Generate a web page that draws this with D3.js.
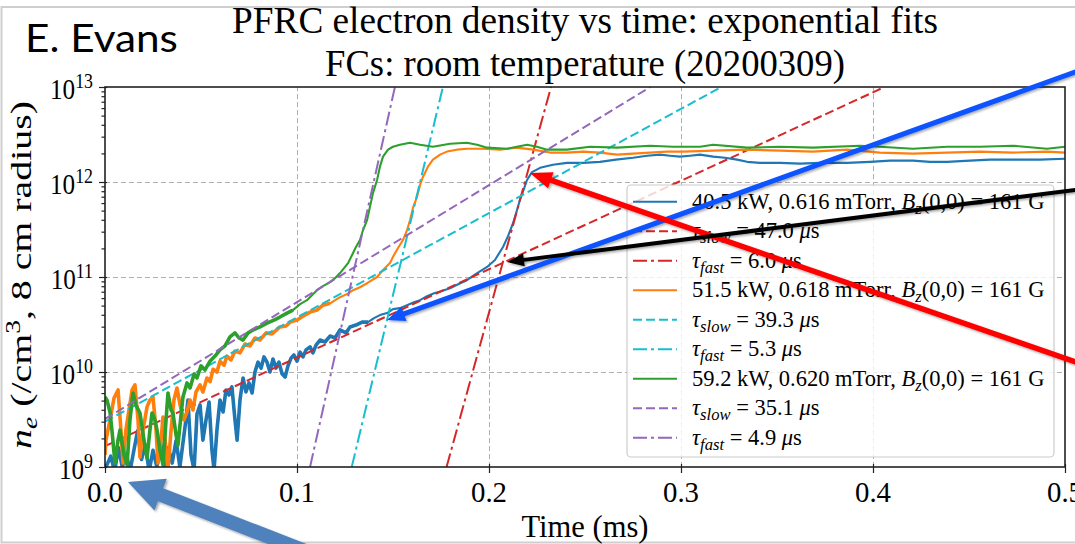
<!DOCTYPE html>
<html>
<head>
<meta charset="utf-8">
<script src="https://cdn.jsdelivr.net/npm/d3@7"></script>
<style>
  body{margin:0;background:#fff;}
  svg{display:block;}
</style>
</head>
<body>
<div id="chart"></div>
<script>
// PFRC electron density vs time, exponential fits

// densities below are in units of 1e9 /cm^3, time in ms
const UNIT = 1e9;
const TIME_TICKS = [0, 0.1, 0.2, 0.3, 0.4, 0.5];
const DENS_EXP   = [9, 10, 11, 12, 13];

const POWERS    = ["40.5", "51.5", "59.2"];
const PRESSURES = ["0.616", "0.618", "0.620"];
const BZ        = "161";
const TAU_SLOW  = ["47.0", "39.3", "35.1"];
const TAU_FAST  = ["6.0", "5.3", "4.9"];

const shot40 = [[0,0.95],[0.003,1.3],[0.005,0.9],[0.007,1.6],[0.009,1.0],[0.011,1.4],[0.013,0.9],[0.016,1.9],[0.017,2.4],[0.019,1.2],[0.021,1.7],[0.023,0.9],[0.025,1.5],[0.027,1.0],[0.029,1.8],[0.031,0.9],[0.033,1.6],[0.035,1.1],[0.037,1.9],[0.039,1.0],[0.0422,3.2],
  [0.0432,5.07],[0.0448,1.34],[0.0464,0.93],[0.0479,3.61],[0.0495,4.5],[0.051,1.92],[0.0526,3.13],[0.0542,4.83],[0.0557,1.51],[0.0568,0.93],[0.0583,2.45],[0.0599,5.07],[0.0615,3.79],[0.063,6.47],[0.0646,5.73],[0.0661,6.96],[0.0677,3.13],[0.0688,1.92],[0.0703,5.07],[0.0719,8.65],[0.0734,6.16],[0.075,7.67],[0.0766,6.02],[0.0781,10.0],[0.0797,12.7],[0.0813,11.0],[0.0828,14.4],[0.0844,12.7],[0.0859,10.0],[0.0875,13.7],[0.0891,11.0],[0.0906,12.7],[0.0922,9.6],[0.0938,8.86],[0.0953,11.6],[0.0969,14.0],[0.0984,15.1],[0.1,13.0],[0.1016,16.2],[0.1031,14.4],[0.1047,17.1],[0.1068,18.4],[0.1083,15.9],[0.1099,19.2],[0.112,21.7],[0.1146,20.7],[0.1172,23.9],[0.1198,22.8],[0.1224,27.7],[0.1255,25.8],[0.1276,29.8],[0.1307,31.2],[0.1339,33.5],[0.137,33.5],[0.1401,36.9],[0.1432,39.7],[0.1469,41.7],[0.15,45.9],[0.1536,47.0],[0.1573,50.5],[0.1609,54.3],[0.1641,57.0],[0.1677,62.8],[0.1714,67.5],[0.175,70.8],[0.1797,76.2],[0.1839,84.0],[0.1885,92.6],[0.1932,107.7],[0.199,127.6],[0.2031,151],[0.2073,207],[0.2099,269],[0.2125,368],[0.2146,508],[0.2161,647],[0.2182,845],[0.2198,1050],[0.2224,1270],[0.2266,1410],[0.2333,1520],[0.2406,1590],[0.249,1590],[0.2578,1630],[0.2661,1720],[0.275,1800],[0.2823,1890],[0.2891,1940],[0.2943,1890],[0.2995,1850],[0.3047,1890],[0.3099,1940],[0.3167,1850],[0.3229,1800],[0.3292,1720],[0.3344,1630],[0.3411,1590],[0.3516,1590],[0.362,1560],[0.3724,1590],[0.3865,1590],[0.3984,1630],[0.4089,1680],[0.4208,1680],[0.4297,1630],[0.4385,1630],[0.4505,1680],[0.4609,1720],[0.4729,1720],[0.487,1720],[0.5,1760]];

const shot51 = [[0,1.34],[0.0005,1.92],[0.0026,3.13],[0.0047,5.32],[0.0068,6.47],[0.0083,2.45],[0.0094,1.10],[0.0109,2.45],[0.0125,3.98],[0.0141,6.47],[0.0156,7.31],[0.0172,3.13],[0.0182,1.27],[0.0198,2.45],[0.0219,4.29],[0.0234,5.07],[0.025,5.45],[0.0266,2.45],[0.0276,1.10],[0.0292,1.92],[0.0302,3.36],[0.0318,1.51],[0.0328,0.93],[0.0344,2.45],[0.0359,5.07],[0.0375,6.79],[0.0391,4.50],[0.0411,3.13],[0.0427,3.79],[0.0443,5.07],[0.0458,3.98],[0.0474,6.16],[0.0495,7.31],[0.051,6.16],[0.0531,8.65],[0.0547,7.9],[0.0563,10.7],[0.0583,10.0],[0.0599,13.0],[0.062,11.8],[0.0635,14.7],[0.0656,13.4],[0.0677,16.6],[0.0703,15.9],[0.0729,19.7],[0.0755,18.8],[0.0781,22.8],[0.0807,21.7],[0.0839,25.8],[0.087,25.2],[0.0911,29.8],[0.0943,30.5],[0.0964,33.5],[0.1,35.2],[0.1031,38.7],[0.1068,42.7],[0.1104,44.8],[0.1135,50.5],[0.1172,52.9],[0.1224,61.3],[0.126,66.0],[0.1292,72.6],[0.1328,78.0],[0.1365,86.0],[0.1417,100],[0.1448,118.6],[0.1484,140],[0.15,163],[0.1526,202],[0.1552,245],[0.1573,312],[0.1589,398],[0.1604,534],[0.1625,697],[0.1641,932],[0.1656,1130],[0.1682,1450],[0.1708,1720],[0.1745,1940],[0.1781,2090],[0.1833,2190],[0.1885,2240],[0.1969,2240],[0.2057,2190],[0.2146,2300],[0.2229,2190],[0.2318,2040],[0.2406,2040],[0.249,2090],[0.2578,2040],[0.2667,1940],[0.275,1990],[0.2839,2040],[0.2927,2090],[0.301,2090],[0.3167,2140],[0.3344,2190],[0.3516,2140],[0.3688,2090],[0.3865,2190],[0.4036,2040],[0.4208,1990],[0.4385,2040],[0.4557,2090],[0.4729,2040],[0.4906,2090],[0.5,2040]];

const shot59 = [[0,5.45],[0.001,5.07],[0.0026,3.79],[0.0036,2.45],[0.0052,1.10],[0.0068,1.92],[0.0078,2.45],[0.0099,1.34],[0.0115,1.05],[0.013,3.13],[0.0146,6.02],[0.0161,4.50],[0.0182,3.70],[0.0203,1.92],[0.0219,1.24],[0.0234,2.45],[0.0245,3.70],[0.026,3.13],[0.0271,2.45],[0.0286,1.51],[0.0302,1.05],[0.0318,3.13],[0.0328,6.02],[0.0344,3.98],[0.0354,3.70],[0.037,2.17],[0.038,1.70],[0.0396,3.53],[0.0406,5.45],[0.0427,7.67],[0.0443,6.79],[0.0464,9.5],[0.0479,8.65],[0.05,11.6],[0.0521,10.5],[0.0547,13.0],[0.0573,14.7],[0.0599,17.1],[0.0625,18.8],[0.0651,23.4],[0.0677,25.8],[0.0698,22.8],[0.0719,21.7],[0.0745,25.8],[0.0771,27.7],[0.0807,29.8],[0.0844,32.7],[0.088,35.2],[0.0911,37.9],[0.0948,41.7],[0.0979,44.8],[0.1016,51.8],[0.1052,57.0],[0.1078,64.4],[0.1104,72.6],[0.1135,80.1],[0.1172,88.3],[0.1198,97.2],[0.1224,110],[0.1245,124],[0.1266,140],[0.1292,179],[0.1307,207],[0.1328,245],[0.1344,312],[0.1365,398],[0.138,547],[0.1396,768],[0.1417,1050],[0.1432,1450],[0.1448,1850],[0.1474,2190],[0.15,2350],[0.1536,2470],[0.1589,2590],[0.1641,2470],[0.1708,2350],[0.1797,2530],[0.1885,2590],[0.1938,2470],[0.199,2300],[0.2094,2240],[0.2198,2470],[0.225,2350],[0.2302,2190],[0.2406,2190],[0.2526,2350],[0.2667,2300],[0.2839,2410],[0.2958,2350],[0.3099,2350],[0.3167,2470],[0.3344,2300],[0.3516,2350],[0.3688,2300],[0.3932,2410],[0.4036,2350],[0.4208,2240],[0.4385,2350],[0.4557,2350],[0.4729,2410],[0.4906,2240],[0.5,2350]];

// exponential fits: straight on a log axis, so start/end points are enough
const fitSlow40 = [[0, 1.66], [0.406, 10000]];
const fitFast40 = [[0.1779, 1], [0.2323, 10000]];
const fitSlow51 = [[0, 3.0], [0.321, 10000]];
const fitFast51 = [[0.1285, 1], [0.176, 10000]];
const fitSlow59 = [[0, 3.2], [0.284, 10000]];
const fitFast59 = [[0.1068, 1], [0.151, 10000]];

// slide annotations drawn over the figure (pixel space)
const ARROWS = [
  {from:[1092,66],  to:[387,320], color:"#0a52ff", w:5,   L:18, W:15},
  {from:[1090,367], to:[530,173], color:"#ff0000", w:5.5, L:22, W:17},
  {from:[1090,188], to:[507,262], color:"#000000", w:4,   L:17, W:13},
  {from:[318,556],  to:[128,482], color:"#4f81bd", w:14,  L:35, W:34}
];

const DATA_COLORS = ["#1f77b4", "#ff7f0e", "#2ca02c"];
const FIT_COLORS  = ["#d62728", "#17becf", "#9467bd"];
const NOISY_UNTIL = [0.14, 0.12, 0.10];   // the raw signal looks like a thick band before this
const DASH = "9,4", DASHDOT = "14,4,3,4";
const SERIF = "'Liberation Serif','Times New Roman',serif";

const W = 1075, H = 544;
const P = {left:105, right:1065, top:87, bottom:467};

const svg = d3.select("#chart").append("svg").attr("width", W).attr("height", H)
  .style("font-family", SERIF);

const defs = svg.append("defs");
defs.append("clipPath").attr("id","plotclip").append("rect")
  .attr("x",P.left).attr("y",P.top).attr("width",P.right-P.left).attr("height",P.bottom-P.top);
defs.append("filter").attr("id","shadow").attr("x","-20%").attr("y","-20%").attr("width","140%").attr("height","140%")
  .append("feDropShadow").attr("dx",1.5).attr("dy",1.5).attr("stdDeviation",1.2)
  .attr("flood-color","#000").attr("flood-opacity",0.35);

const x = d3.scaleLinear().domain([0, 0.5]).range([P.left, P.right]);
const y = d3.scaleLog().domain([1e9, 1e13]).range([P.bottom, P.top]);

// slide frame
svg.append("rect").attr("x",1.5).attr("y",7).attr("width",1100).attr("height",535.5)
  .attr("fill","none").attr("stroke","#cfcfcf").attr("stroke-width",2);

// text helpers
function rich(g, segs, size, anchor){
  const t = g.append("text").attr("font-family", SERIF).attr("font-size", size)
    .attr("text-anchor", anchor || "start").attr("fill","#000");
  let cur = 0;
  segs.forEach(s => {
    const r = s.r || 0;
    const sp = t.append("tspan").text(s.t).attr("dy", r - cur);
    cur = r;
    if (s.i) sp.attr("font-style","italic");
    if (s.s) sp.attr("font-size", s.s);
  });
  return t;
}
function place(t, px, py, o){
  const bw = t.node().getBBox().width;
  const sx = o.w ? o.w / bw : (o.sx || 1);
  const rot = o.rot ? ` rotate(${o.rot})` : "";
  t.attr("transform", `translate(${px},${py})${rot} scale(${sx},${o.sy || 1})`);
  return sx;
}

// grid
const gridG = svg.append("g");
gridG.append("g").attr("transform",`translate(0,${P.bottom})`)
  .call(d3.axisBottom(x).tickValues(TIME_TICKS.slice(1,-1)).tickSize(-(P.bottom-P.top)).tickFormat(""))
  .call(g => g.select(".domain").remove());
gridG.append("g").attr("transform",`translate(${P.left},0)`)
  .call(d3.axisLeft(y).tickValues(DENS_EXP.slice(1,-1).map(e => Math.pow(10,e))).tickSize(-(P.right-P.left)).tickFormat(""))
  .call(g => g.select(".domain").remove());
gridG.selectAll(".tick line").attr("stroke","#b0b0b0").attr("stroke-width",1).attr("stroke-dasharray","5,3");

// curves
const line = d3.line().x(d => x(d[0])).y(d => y(d[1] * UNIT));
const plotG = svg.append("g").attr("clip-path","url(#plotclip)");
const groups = [
  [shot40, fitSlow40, fitFast40],
  [shot51, fitSlow51, fitFast51],
  [shot59, fitSlow59, fitFast59]
];
groups.forEach(([data, slow, fast], i) => {
  plotG.append("path").datum(data.filter(d => d[0] <= NOISY_UNTIL[i])).attr("d", line).attr("fill","none")
    .attr("stroke", DATA_COLORS[i]).attr("stroke-width",3.6).attr("stroke-linejoin","round");
  plotG.append("path").datum(data).attr("d", line).attr("fill","none")
    .attr("stroke", DATA_COLORS[i]).attr("stroke-width",2.1).attr("stroke-linejoin","round");
  plotG.append("path").datum(slow).attr("d", line).attr("fill","none")
    .attr("stroke", FIT_COLORS[i]).attr("stroke-width",2).attr("stroke-dasharray",DASH);
  plotG.append("path").datum(fast).attr("d", line).attr("fill","none")
    .attr("stroke", FIT_COLORS[i]).attr("stroke-width",2).attr("stroke-dasharray",DASHDOT);
});

// axes (major ticks straddle the spine a little, like the figure)
const axG = svg.append("g");
axG.append("g").attr("transform",`translate(0,${P.bottom})`)
  .call(d3.axisBottom(x).tickValues(TIME_TICKS).tickSize(6).tickFormat(""))
  .call(g => g.selectAll(".tick line").attr("y1",-3));
axG.append("g").attr("transform",`translate(${P.left},0)`)
  .call(d3.axisLeft(y).tickValues(DENS_EXP.map(e => Math.pow(10,e))).tickSize(6).tickFormat(""))
  .call(g => g.selectAll(".tick line").attr("x1",2));
const majors = new Set(DENS_EXP.map(e => Math.pow(10,e)));
axG.append("g").attr("transform",`translate(${P.left},0)`)
  .call(d3.axisLeft(y).tickValues(y.ticks().filter(v => !majors.has(v))).tickSize(3.5).tickFormat(""));
axG.selectAll(".domain").remove();
axG.selectAll(".tick line").attr("stroke","#222").attr("stroke-width",1.2);
svg.append("rect").attr("x",P.left).attr("y",P.top).attr("width",P.right-P.left).attr("height",P.bottom-P.top)
  .attr("fill","none").attr("stroke","#222").attr("stroke-width",1.6);

// tick labels
const tl = svg.append("g");
let xsx = null;
TIME_TICKS.forEach(v => {
  const t = rich(tl, [{t: v.toFixed(1)}], 24, "middle");
  if (xsx === null) xsx = place(t, x(v), P.bottom + 35, {w:36, sy:1.25});
  else place(t, x(v), P.bottom + 35, {sx:xsx, sy:1.25});
});
DENS_EXP.forEach(e => {
  const t = rich(tl, [{t:"10"}, {t:String(e), s:17, r:-9}], 24, "end");
  place(t, 93, y(Math.pow(10,e)) + 12, {sx:1.05, sy:1.25});
});

// axis labels
const xl = rich(svg, [{t:"Time (ms)"}], 26, "middle");
place(xl, (P.left+P.right)/2, 537, {w:127, sy:1.25});
const yl = rich(svg, [{t:"n", i:true}, {t:"e", i:true, s:20, r:6}, {t:" (/cm", r:0}, {t:"3", s:20, r:-11}, {t:", 8 cm radius)", r:0}], 29, "middle");
place(yl, 31, (P.top+P.bottom)/2 - 2, {w:348, rot:-90, sy:1.03});

// title
const t1 = rich(svg, [{t:"PFRC electron density vs time: exponential fits"}], 30, "middle");
place(t1, (P.left+P.right)/2, 33, {w:706, sy:1.25});
const t2 = rich(svg, [{t:"FCs: room temperature (20200309)"}], 30, "middle");
place(t2, (P.left+P.right)/2, 76, {w:520, sy:1.25});

// legend
const lg = svg.append("g");
lg.append("rect").attr("x",627).attr("y",185).attr("width",427).attr("height",272).attr("rx",4)
  .attr("fill","#fff").attr("fill-opacity",0.8).attr("stroke","#cccccc").attr("stroke-width",1.2);
const rows = [];
POWERS.forEach((p, i) => {
  rows.push({color:DATA_COLORS[i], dash:null, segs:[
    {t:`${p} kW, ${PRESSURES[i]} mTorr, `}, {t:"B", i:true}, {t:"z", i:true, s:14, r:4},
    {t:`(0,0) = ${BZ} G`, r:0}]});
  rows.push({color:FIT_COLORS[i], dash:DASH, segs:[
    {t:"τ", i:true}, {t:"slow", i:true, s:14, r:4}, {t:` = ${TAU_SLOW[i]} `, r:0}, {t:"μ", i:true}, {t:"s"}]});
  rows.push({color:FIT_COLORS[i], dash:DASHDOT, segs:[
    {t:"τ", i:true}, {t:"fast", i:true, s:14, r:4}, {t:` = ${TAU_FAST[i]} `, r:0}, {t:"μ", i:true}, {t:"s"}]});
});
let lsx = null;
rows.forEach((r, k) => {
  const cy = 201.7 + k * 29.5;
  lg.append("line").attr("x1",633).attr("x2",677).attr("y1",cy).attr("y2",cy)
    .attr("stroke", r.color).attr("stroke-width",2).attr("stroke-dasharray", r.dash);
  const t = rich(lg, r.segs, 19, "start");
  if (lsx === null) lsx = place(t, 692, cy + 7, {w:353, sy:1.2});
  else place(t, 692, cy + 7, {sx:lsx, sy:1.2});
});

// "E. Evans"
const ee = svg.append("text").attr("font-family","Lato,'Open Sans',sans-serif").attr("font-size",38).text("E. Evans");
place(ee, 25, 52, {w:153, sy:1});

// arrows
const ag = svg.append("g").attr("filter","url(#shadow)");
ARROWS.forEach(a => {
  const [x1,y1] = a.from, [x2,y2] = a.to;
  const len = Math.hypot(x2-x1, y2-y1), ux = (x2-x1)/len, uy = (y2-y1)/len;
  const px = -uy, py = ux;
  const bx = x2 - ux*a.L, by = y2 - uy*a.L;
  const pts = [
    [x1 + px*a.w/2, y1 + py*a.w/2], [bx + px*a.w/2, by + py*a.w/2], [bx + px*a.W/2, by + py*a.W/2],
    [x2, y2], [bx - px*a.W/2, by - py*a.W/2], [bx - px*a.w/2, by - py*a.w/2], [x1 - px*a.w/2, y1 - py*a.w/2]
  ];
  ag.append("path").attr("d", "M" + pts.map(p => p.join(",")).join("L") + "Z").attr("fill", a.color);
});
</script>
</body>
</html>
